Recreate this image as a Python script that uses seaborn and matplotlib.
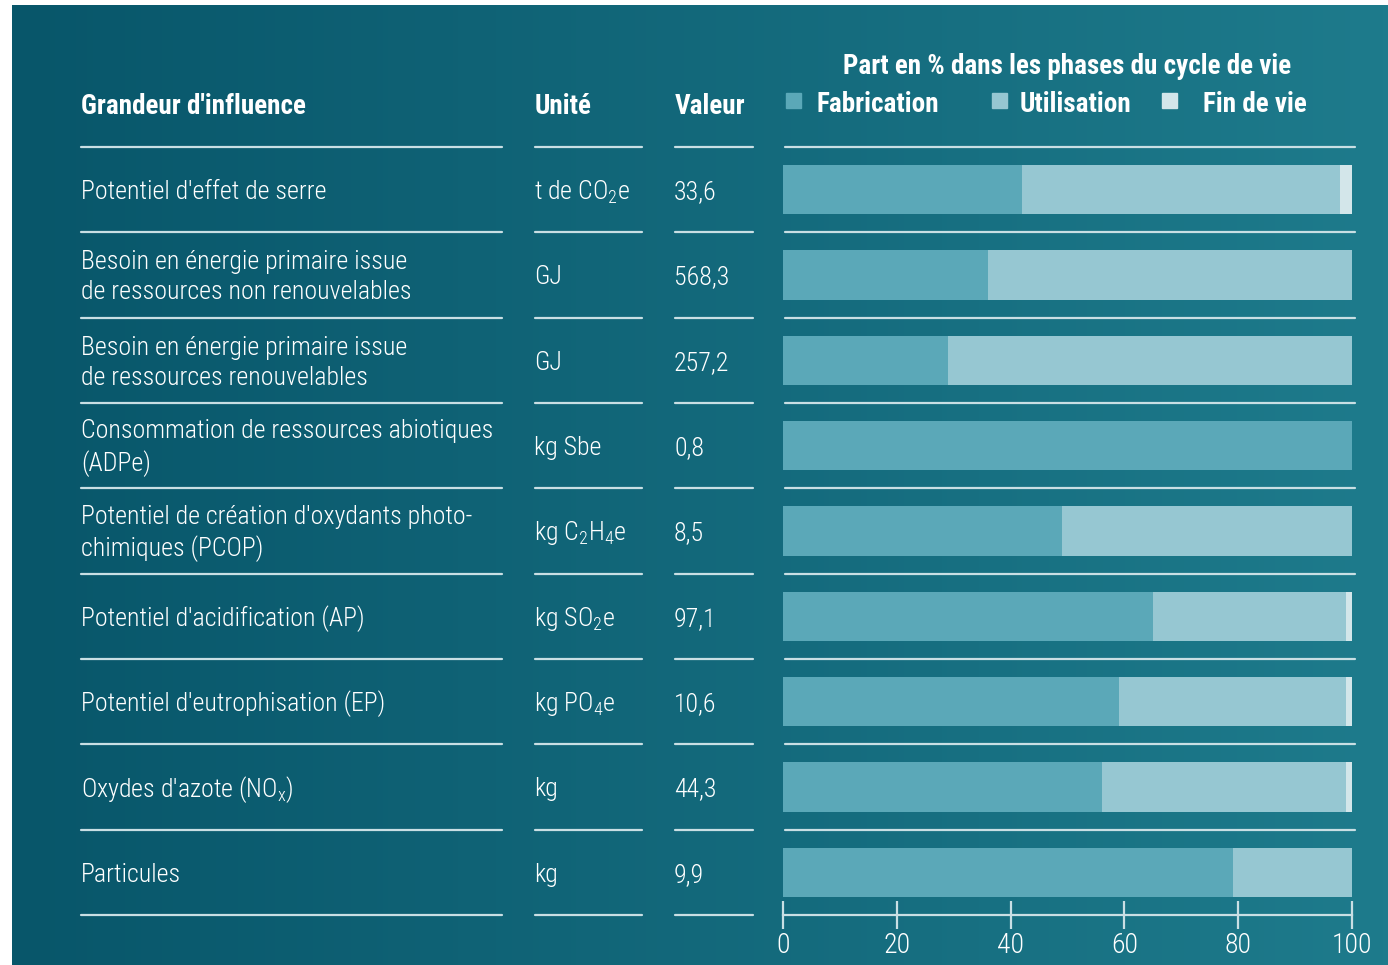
import numpy as np
import pandas as pd
import matplotlib
matplotlib.use('Agg')
import matplotlib.pyplot as plt
import seaborn as sns
from matplotlib import font_manager
from matplotlib.colors import LinearSegmentedColormap
from matplotlib.patches import Rectangle

# Données
grandeurs = [
    "Potentiel d'effet de serre",
    "Besoin en énergie primaire issue\nde ressources non renouvelables",
    "Besoin en énergie primaire issue\nde ressources renouvelables",
    "Consommation de ressources abiotiques\n(ADPe)",
    "Potentiel de création d'oxydants photo-\nchimiques (PCOP)",
    "Potentiel d'acidification (AP)",
    "Potentiel d'eutrophisation (EP)",
    "Oxydes d'azote (NO$_x$)",
    "Particules",
]
unites = ["t de CO$_2$e", "GJ", "GJ", "kg Sbe", "kg C$_2$H$_4$e",
          "kg SO$_2$e", "kg PO$_4$e", "kg", "kg"]
valeurs = ["33,6", "568,3", "257,2", "0,8", "8,5", "97,1", "10,6", "44,3", "9,9"]
fabrication = [42.0, 36.0, 29.0, 100.0, 49.0, 65.0, 59.0, 56.1, 79.1]
utilisation = [55.9, 64.0, 71.0, 0.0, 51.0, 33.9, 39.9, 42.8, 20.9]
fin_de_vie = [2.1, 0.0, 0.0, 0.0, 0.0, 1.1, 1.1, 1.1, 0.0]
phases = ["Fabrication", "Utilisation", "Fin de vie"]
couleurs = ["#5ba8b8", "#96c7d2", "#d3e6ea"]
ticks = [0, 20, 40, 60, 80, 100]

# police étroite si disponible
noms = {f.name for f in font_manager.fontManager.ttflist}
police = "DejaVu Sans"
for nom in ["Roboto Condensed", "Liberation Sans Narrow", "DejaVu Sans Condensed",
            "Open Sans Condensed", "Noto Sans Condensed", "Roboto"]:
    if nom in noms:
        police = nom
        break
etroit = police != "Roboto"

sns.set_theme(style="white")
plt.rcParams['font.family'] = [police, 'DejaVu Sans']
plt.rcParams['mathtext.default'] = 'regular'

W, H = 1388, 965
fig = plt.figure(figsize=(W / 100, H / 100), dpi=100)
fig.patch.set_facecolor("white")

# fond en dégradé
fond = fig.add_axes([12 / W, 0, 1 - 12 / W, 1 - 5 / H])
degrade = LinearSegmentedColormap.from_list("fond", ["#08566a", "#1e7b8c"])
fond.imshow(np.linspace(0, 1, 256).reshape(1, -1), cmap=degrade, aspect="auto",
            extent=[0, 1, 0, 1])
fond.set_axis_off()

blanc = "white"
ligne = "#c9dfe4"
taille = 18.6 if etroit else 15.5
taille_titre = 19.5 if etroit else 16
taille_ticks = 20 if etroit else 16
poids = "light"

def fx(px):
    return px / W

def fy(py):
    return 1 - py / H

# en-têtes
fig.text(fx(81), fy(106), "Grandeur d'influence", color=blanc, fontsize=taille_titre,
         fontweight="bold", va="center")
fig.text(fx(535), fy(106), "Unité", color=blanc, fontsize=taille_titre,
         fontweight="bold", va="center")
fig.text(fx(675), fy(106), "Valeur", color=blanc, fontsize=taille_titre,
         fontweight="bold", va="center")
fig.text(fx(1067), fy(67), "Part en % dans les phases du cycle de vie", color=blanc,
         fontsize=taille_titre, fontweight="bold", va="center", ha="center")

# légende
for xc, xt, nom, c in zip([786, 992, 1162], [817, 1020, 1203], phases, couleurs):
    fig.patches.append(Rectangle((fx(xc), fy(108)), 15 / W, 15 / H, color=c,
                                 transform=fig.transFigure, figure=fig))
    fig.text(fx(xt), fy(104), nom, color=blanc, fontsize=taille_titre,
             fontweight="bold", va="center")

# colonnes de texte
pas = 85.35
for i, (g, u, v) in enumerate(zip(grandeurs, unites, valeurs)):
    yc = 192 + i * pas
    fig.text(fx(81), fy(yc), g, color=blanc, fontsize=taille, va="center",
             linespacing=1.32, fontweight=poids)
    fig.text(fx(534), fy(yc), u, color=blanc, fontsize=taille, va="center",
             fontweight=poids)
    fig.text(fx(674), fy(yc), v, color=blanc, fontsize=taille, va="center",
             fontweight=poids)

for k in range(10):
    yl = fy(147 + k * pas)
    for x0, x1 in [(81, 502), (535, 642), (675, 753)]:
        fig.add_artist(plt.Line2D([fx(x0), fx(x1)], [yl, yl], color=ligne, lw=1.6))

# barres empilées
df = pd.DataFrame({"grandeur": [str(i) for i in range(len(grandeurs))],
                   "Fabrication": fabrication, "Utilisation": utilisation,
                   "Fin de vie": fin_de_vie})
df["c1"] = df["Fabrication"]
df["c2"] = df["Fabrication"] + df["Utilisation"]
df["c3"] = df["c2"] + df["Fin de vie"]

ax = fig.add_axes([fx(783), fy(915), fx(1352) - fx(783), fy(147) - fy(915)])
for col, c in zip(["c3", "c2", "c1"], couleurs[::-1]):
    sns.barplot(data=df, x=col, y="grandeur", orient="h", color=c, width=0.575,
                saturation=1, linewidth=0, edgecolor="none", ax=ax)
ax.set_facecolor("none")
ax.set_xlim(0, 100)
ax.set_ylim(8.5, -0.5)
ax.set_xlabel("")
ax.set_ylabel("")
ax.set_yticks([])
ax.set_xticks(ticks)
ax.set_xticklabels([str(t) for t in ticks], fontweight=poids)
for s in ["top", "left", "right"]:
    ax.spines[s].set_visible(False)
ax.spines["bottom"].set_color(ligne)
ax.spines["bottom"].set_linewidth(1.6)
ax.tick_params(axis="x", direction="inout", length=20, width=1.6, color=ligne,
               labelcolor=blanc, labelsize=taille_ticks, pad=2, bottom=True)
for k in range(9):
    ax.axhline(k - 0.5, xmin=0.004, xmax=1.005, color=ligne, lw=1.6, clip_on=False)

fig.savefig("out.png", dpi=100, facecolor=fig.get_facecolor())
